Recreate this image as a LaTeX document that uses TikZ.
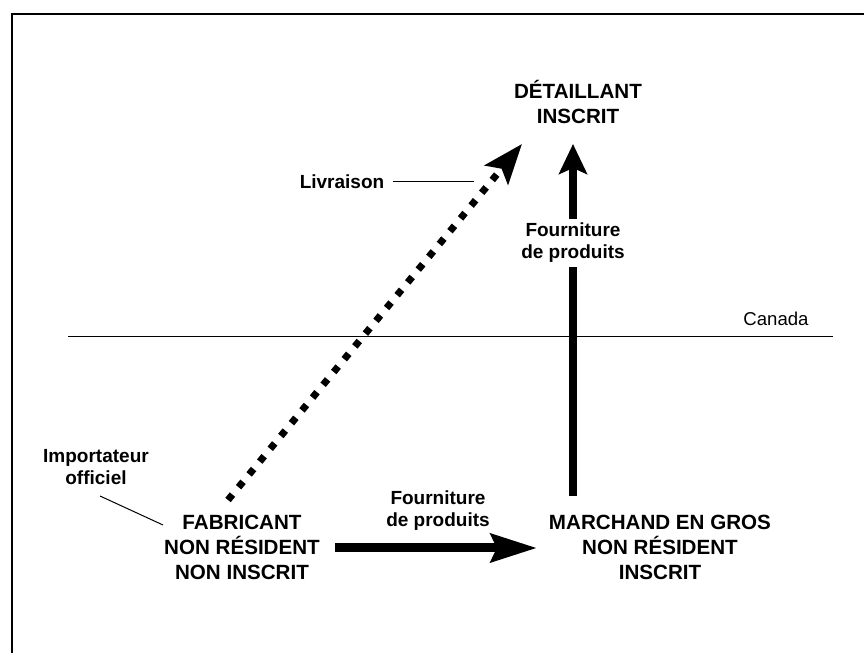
\documentclass[tikz,border=0pt]{standalone}
\usepackage{fontspec}
\setmainfont{Liberation Sans}
\usetikzlibrary{arrows.meta}

\begin{document}
\begin{tikzpicture}[x=0.5bp, y=0.5bp,
    acteur/.style={font=\bfseries\fontsize{10.3bp}{12.5bp}\selectfont, align=center, inner sep=0},
    etiq/.style={font=\bfseries\fontsize{9.5bp}{11bp}\selectfont, align=center, inner sep=0},
    fleche/.style={line width=4bp, -{Stealth[length=15bp, width=14bp, inset=3bp]}}]

  % cadre
  \useasboundingbox (0,0) rectangle (864,653);
  \draw[line width=1bp] (12,0) -- (12,639) -- (864,639);

  % frontière
  \coordinate (F1) at (68,316);
  \coordinate (F2) at (833,316);
  \draw[line width=0.5bp] (F1) -- (F2);
  \node[font=\fontsize{9.3bp}{11bp}\selectfont, inner sep=0] (canada) at (776,334) {Canada};

  % acteurs
  \node[acteur] (detail) at (578,551) {DÉTAILLANT\\INSCRIT};
  \node[acteur] (fabr) at (242,106) {FABRICANT\\NON RÉSIDENT\\NON INSCRIT};
  \node[acteur] (march) at (660,106) {MARCHAND EN GROS\\NON RÉSIDENT\\INSCRIT};

  % extrémités des flèches
  \coordinate (D0) at (228,153);
  \coordinate (D1) at (522,509);
  \coordinate (V0) at (573,157);
  \coordinate (V1) at (573,509);
  \coordinate (H0) at (335,105);
  \coordinate (H1) at (537,105);

  % livraison (pointillé)
  \draw[line width=3.5bp, dash pattern=on 3.5bp off 4.8bp,
    -{Stealth[length=20bp, width=15bp, inset=4bp]}] (D0) -- (D1);
  % fourniture vers le détaillant
  \draw[fleche] (V0) -- (V1);
  % fourniture vers le marchand
  \draw[line width=4.5bp, -{Stealth[length=23bp, width=14bp, inset=3bp]}] (H0) -- (H1);

  % étiquettes
  \node[etiq, fill=white, inner sep=2bp] (four1) at (573,410) {Fourniture\\de produits};
  \node[etiq] (four2) at (438,142) {Fourniture\\de produits};
  \node[etiq] (livr) at (342,471) {Livraison};
  \node[etiq] (impo) at (96,186) {Importateur\\officiel};

  % traits de rappel
  \coordinate (L0) at (393,471);
  \coordinate (L1) at (474,471);
  \coordinate (I0) at (100,157);
  \coordinate (I1) at (163,128);
  \draw[line width=0.5bp] (L0) -- (L1);
  \draw[line width=0.5bp] (I0) -- (I1);

\end{tikzpicture}
\end{document}
